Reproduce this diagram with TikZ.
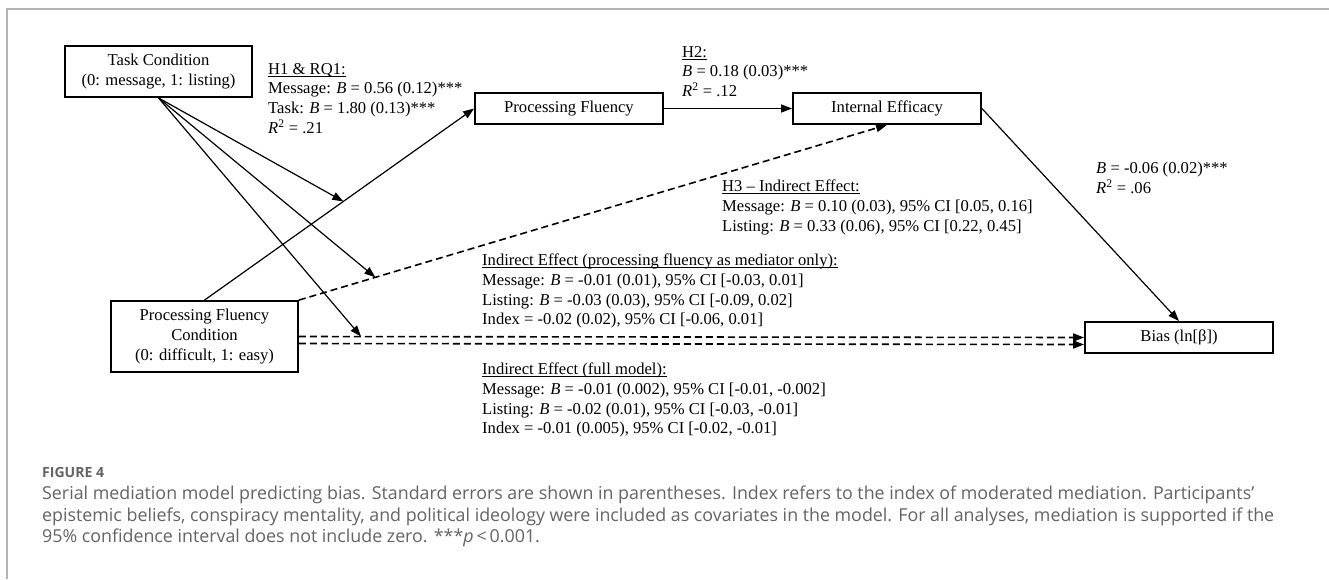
\documentclass[tikz,border=0pt]{standalone}
\usepackage{fontspec}
\setmainfont{Liberation Serif}
\newfontfamily\capfont{Open Sans}
\usetikzlibrary{arrows.meta,calc}
\definecolor{framegray}{HTML}{B4B4B4}
\definecolor{capgray}{HTML}{646464}
\newcommand{\myul}[1]{\setbox0\hbox{#1}\rlap{\rule[-2.2pt]{\wd0}{0.8pt}}\box0}
\newsavebox{\measbox}
\newdimen\capwd
\newdimen\figwd
\sbox{\measbox}{\capfont\fontsize{10}{12}\selectfont epistemic beliefs, conspiracy mentality, and political ideology were included as covariates in the model. For all analyses, mediation is supported if the}
\global\capwd=\wd\measbox
\sbox{\measbox}{\capfont\fontsize{10}{12}\selectfont\bfseries FIGURE 4}
\global\figwd=\wd\measbox
\begin{document}
\begin{tikzpicture}[x=1pt,y=-1pt,
  box/.style={draw,line width=1.8pt,inner sep=0pt,align=center,font=\fontsize{16.6}{20}\selectfont},
  lbl/.style={anchor=north west,inner sep=0pt,align=left,font=\fontsize{16.6}{19.7}\selectfont},
  arr/.style={line width=1.2pt,-{Triangle[length=11pt,width=8pt]}},
  darr/.style={arr,line width=1.6pt,dash pattern=on 7pt off 4pt},
  caption/.style={anchor=north west,inner sep=0pt,align=left,text=capgray}]
\useasboundingbox (0,0) rectangle (1329,579);
\fill[white] (0,0) rectangle (1329,579);
\draw[framegray,line width=1.5pt] (7,579) -- (7,9) -- (1329,9);

\pgfmathsetmacro{\capsz}{10*1232/\capwd}
\pgfmathsetmacro{\figsz}{10*62/\figwd}

% boxes
\node[box,minimum width=187pt,minimum height=51pt] (TC) at (158.5,71.5) {Task Condition\\(0: message, 1: listing)};
\node[box,minimum width=188pt,minimum height=31pt] (PF) at (569,108.5) {Processing Fluency};
\node[box,minimum width=188pt,minimum height=31pt] (IE) at (887,108.5) {Internal Efficacy};
\node[box,minimum width=187pt,minimum height=71pt] (PFC) at (204.5,336.5) {Processing Fluency\\Condition\\(0: difficult, 1: easy)};
\node[box,minimum width=188pt,minimum height=31pt] (BI) at (1179,337.5) {Bias (ln[β])};

% paths
\draw[arr] (PFC.north) -- (PF.west);
\draw[arr] (PF.east) -- (IE.west);
\draw[arr] (IE.east) -- (BI.north);
\draw[darr] (PFC.north east) -- (IE.south);
\draw[darr] (PFC.east) -- (BI.west);
\draw[darr] ([yshift=-7pt]PFC.east) -- ([yshift=-7pt]BI.west);

\coordinate (m1) at ($(PFC.north)!0.515!(PF.west)$);
\coordinate (m2) at ($(PFC.north east)!0.13!(IE.south)$);
\coordinate (m3) at (361,336.5);
\draw[arr] (TC.south) -- (m1);
\draw[arr] (TC.south) -- (m2);
\draw[arr] (TC.south) -- (m3);

% labels
\node[lbl] (L1) at (268,63) {\myul{H1 \& RQ1:}\\Message: \textit{B} = 0.56 (0.12)***\\Task: \textit{B} = 1.80 (0.13)***\\\textit{R}\textsuperscript{2} = .21};
\node[lbl] (L2) at (682,46) {\myul{H2:}\\\textit{B} = 0.18 (0.03)***\\\textit{R}\textsuperscript{2} = .12};
\node[lbl] (L3) at (1096,162) {\textit{B} = -0.06 (0.02)***\\\textit{R}\textsuperscript{2} = .06};
\node[lbl] (L4) at (722,180) {\myul{H3 – Indirect Effect:}\\Message: \textit{B} = 0.10 (0.03), 95\% CI [0.05, 0.16]\\Listing: \textit{B} = 0.33 (0.06), 95\% CI [0.22, 0.45]};
\node[lbl] (L5) at (482,254) {\myul{Indirect Effect (processing fluency as mediator only):}\\Message: \textit{B} = -0.01 (0.01), 95\% CI [-0.03, 0.01]\\Listing: \textit{B} = -0.03 (0.03), 95\% CI [-0.09, 0.02]\\Index = -0.02 (0.02), 95\% CI [-0.06, 0.01]};
\node[lbl] (L6) at (482,363) {\myul{Indirect Effect (full model):}\\Message: \textit{B} = -0.01 (0.002), 95\% CI [-0.01, -0.002]\\Listing: \textit{B} = -0.02 (0.01), 95\% CI [-0.03, -0.01]\\Index = -0.01 (0.005), 95\% CI [-0.02, -0.01]};

% caption
\node[caption,font=\capfont\fontsize{\figsz}{15}\selectfont\bfseries] (FIG) at (42,467) {FIGURE 4};
\node[caption,font=\capfont\fontsize{\capsz}{21.5}\selectfont] (CAP) at (42,486) {Serial mediation model predicting bias. Standard errors are shown in parentheses. Index refers to the index of moderated mediation. Participants’\\epistemic beliefs, conspiracy mentality, and political ideology were included as covariates in the model. For all analyses, mediation is supported if the\\95\% confidence interval does not include zero. ***\textit{p}\,<\,0.001.};
\end{tikzpicture}
\end{document}
